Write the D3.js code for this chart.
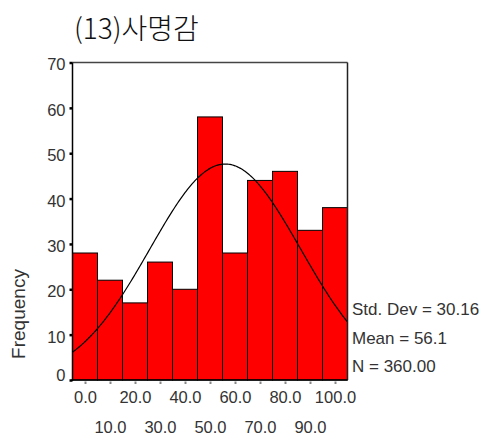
<!DOCTYPE html>
<html><head><meta charset="utf-8">
<script src="https://cdn.jsdelivr.net/npm/d3@7"></script>
<style>body{margin:0;background:#fff}svg{display:block}</style>
</head><body>
<script>
const title = "(13)사명감";
const binCenters = [0,10,20,30,40,50,60,70,80,90,100];
const counts = [28,22,17,26,20,58,28,44,46,33,38];
const yTicks = [0,10,20,30,40,50,60,70];
const xTickLabels = ["0.0","10.0","20.0","30.0","40.0","50.0","60.0","70.0","80.0","90.0","100.0"];
const stdDev = 30.16, mean = 56.1, nTotal = 360;
const statLines = ["Std. Dev = 30.16","Mean = 56.1","N = 360.00"];
const binWidth = 10;

(function(){
const W = 488, H = 439;
const svg = d3.select("body").append("svg").attr("width", W).attr("height", H);
const pL = 72.5, pR = 347.5, pT = 62.5, pB = 380;
const x = d3.scaleLinear().domain([-5,105]).range([pL,pR]);
const y = d3.scaleLinear().domain([0,70]).range([pB,pT]);
const font = "'Liberation Sans', Arial, sans-serif";
const txt = "#333";

svg.append("text").attr("x",74).attr("y",39).attr("font-family","'Noto Sans CJK KR', sans-serif")
  .attr("font-size",28).attr("font-weight",300).attr("fill","#111").text(title);

// bars
svg.append("g").selectAll("rect").data(binCenters).join("rect")
  .attr("x", d => x(d - binWidth/2)).attr("width", d => x(d + binWidth/2) - x(d - binWidth/2))
  .attr("y", (d,i) => y(counts[i])).attr("height", (d,i) => y(0) - y(counts[i]))
  .attr("fill","#ff0000").attr("stroke","#000").attr("stroke-width",1);

// normal curve from displayed stats
const pts = d3.range(-5, 105.01, 0.5).map(v => [v, nTotal*binWidth/(stdDev*Math.sqrt(2*Math.PI))*Math.exp(-0.5*((v-mean)/stdDev)**2)]);
svg.append("path").datum(pts).attr("fill","none").attr("stroke","#000").attr("stroke-width",1.2)
  .attr("d", d3.line().x(d=>x(d[0])).y(d=>y(d[1])));

// frame
svg.append("line").attr("x1",pL).attr("x2",pR).attr("y1",pT).attr("y2",pT).attr("stroke","#444").attr("stroke-width",1.5);
svg.append("line").attr("x1",pR).attr("x2",pR).attr("y1",pT).attr("y2",pB).attr("stroke","#222").attr("stroke-width",1.5);
svg.append("line").attr("x1",pL).attr("x2",pL).attr("y1",pT).attr("y2",pB+1).attr("stroke","#000").attr("stroke-width",1.5);
svg.append("line").attr("x1",pL-1).attr("x2",pR).attr("y1",pB).attr("y2",pB).attr("stroke","#000").attr("stroke-width",1.5);

// y axis
const ya = svg.append("g").attr("transform",`translate(${pL},0)`)
  .call(d3.axisLeft(y).tickValues(yTicks).tickFormat(d3.format("d")).tickSize(3).tickPadding(4));
ya.select(".domain").remove();
ya.selectAll("line").attr("stroke","#000").attr("stroke-width",2.5);
ya.selectAll("text").attr("font-family",font).attr("font-size",16.5).attr("fill",txt)
  .attr("dy", d => d === 0 ? "0.0em" : "0.45em");

// x axis
const xa = svg.append("g").attr("transform",`translate(0,${pB})`)
  .call(d3.axisBottom(x).tickValues(binCenters).tickFormat((d,i)=>xTickLabels[i]).tickSize(4).tickPadding(7));
xa.select(".domain").remove();
xa.selectAll("line").attr("stroke","#888").attr("stroke-width",2).attr("y1",1.5);
xa.selectAll("text").attr("font-family",font).attr("font-size",16.5).attr("fill",txt)
  .attr("dy",(d,i)=> i%2===0 ? "0.71em" : "2.55em");

svg.append("text").attr("transform","translate(25,314) rotate(-90)").attr("text-anchor","middle")
  .attr("font-family",font).attr("font-size",19).attr("fill",txt).text("Frequency");

svg.append("g").selectAll("text").data(statLines).join("text")
  .attr("x",352).attr("y",(d,i)=>315+i*28.5).attr("font-family",font).attr("font-size",17)
  .attr("fill",txt).text(d=>d);
})();
</script>
</body></html>
